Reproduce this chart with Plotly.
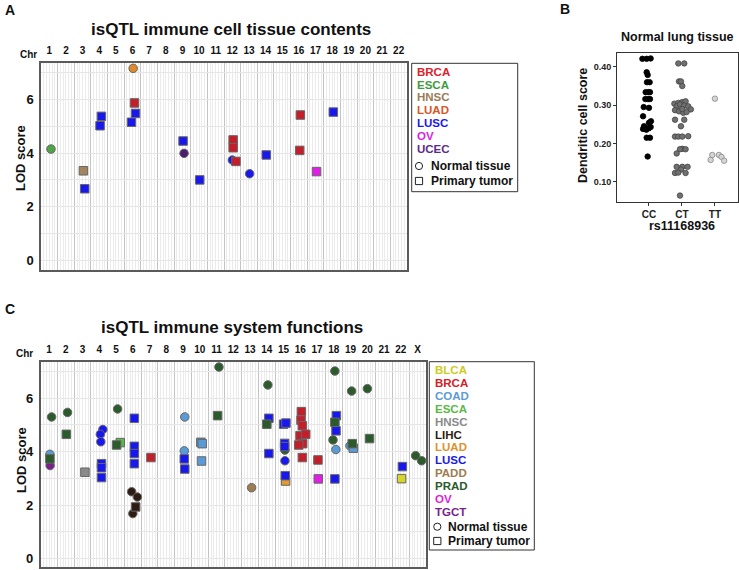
import plotly.graph_objects as go

W, H = 739, 570
FONT = "Liberation Sans"

# ---------------- Panel A data ----------------
a_chr_labels = [str(i) for i in range(1, 23)]
a_cancer = ["ESCA", "HNSC", "LUSC", "LUSC", "LUSC", "LUAD", "BRCA", "LUSC", "LUSC", "LUSC", "UCEC",
            "LUSC", "BRCA", "BRCA", "LUSC", "BRCA", "LUSC", "LUSC", "BRCA", "BRCA", "OV", "LUSC"]
a_tissue = ["N", "T", "T", "T", "T", "N", "T", "T", "T", "T", "N",
            "T", "T", "T", "N", "T", "N", "T", "T", "T", "T", "T"]
a_pos = [1.1, 3.05, 3.13, 4.05, 4.13, 6.04, 6.12, 6.18, 5.94, 9.04, 9.1,
         10.04, 12.05, 12.05, 12.0, 12.22, 13.04, 14.04, 16.09, 16.05, 17.06, 18.07]
a_lod = [4.15, 3.34, 2.67, 5.02, 5.37, 7.16, 5.87, 5.48, 5.15, 4.45, 3.99,
         3.0, 4.49, 4.2, 3.74, 3.69, 3.23, 3.93, 5.42, 4.1, 3.31, 5.53]
a_legend = ["BRCA", "ESCA", "HNSC", "LUAD", "LUSC", "OV", "UCEC"]

# ---------------- Panel B data ----------------
b_categories = ["CC", "CT", "TT"]
b_cc = [0.421, 0.421, 0.422, 0.386, 0.379, 0.360, 0.360, 0.334, 0.334, 0.334, 0.316, 0.316, 0.316,
        0.295, 0.293, 0.271, 0.258, 0.254, 0.245, 0.240, 0.240, 0.238, 0.236, 0.243, 0.215, 0.215, 0.166]
b_cc_jit = [-0.20, -0.07, 0.05, -0.07, -0.04, -0.06, 0.02, -0.10, -0.02, 0.03, -0.11, -0.03, 0.03,
            -0.16, 0.00, -0.18, 0.06, 0.00, -0.15, -0.10, 0.00, -0.18, -0.08, 0.05, -0.07, 0.03, -0.04]
b_ct = [0.409, 0.409, 0.362, 0.362, 0.350, 0.304, 0.306, 0.308, 0.310, 0.297, 0.302, 0.299, 0.297,
        0.289, 0.287, 0.284, 0.280, 0.282, 0.290, 0.262, 0.262, 0.245, 0.218, 0.218, 0.218, 0.219,
        0.186, 0.185, 0.185, 0.174, 0.139, 0.139, 0.139, 0.132, 0.123, 0.124, 0.123, 0.064]
b_ct_jit = [-0.11, 0.07, -0.09, -0.03, 0.01, -0.23, -0.11, 0.01, 0.11, -0.16, -0.06, 0.07, 0.19,
            0.27, -0.21, -0.09, 0.04, 0.14, 0.01, -0.21, 0.07, -0.03, -0.21, -0.11, 0.01, 0.19,
            0.01, 0.11, -0.06, -0.16, -0.16, 0.01, 0.17, -0.03, -0.21, -0.11, 0.11, -0.06]
b_tt = [0.317, 0.170, 0.170, 0.157, 0.165, 0.155]
b_tt_jit = [0.00, -0.08, 0.12, -0.13, 0.20, 0.28]

# ---------------- Panel C data ----------------
c_chr_labels = [str(i) for i in range(1, 23)] + ["X"]
c_cancer = ["PRAD", "PRAD", "PRAD", "COAD", "PRAD", "PRAD", "PRAD", "LUSC", "LUSC", "LUSC",
            "LUSC", "PRAD", "ESCA", "LUSC", "LUSC", "LUSC", "BRCA", "COAD", "LUSC", "LUSC",
            "COAD", "COAD", "COAD", "COAD", "PRAD", "TGCT", "HNSC", "LUSC", "LUSC", "LUSC",
            "LIHC", "LIHC", "LIHC", "LIHC", "PRAD", "PRAD", "PRAD", "PRAD", "LUSC", "PRAD",
            "LUSC", "LUSC", "BRCA", "BRCA", "BRCA", "BRCA", "BRCA", "BRCA", "BRCA", "BRCA",
            "BRCA", "PRAD", "LUSC", "LUSC", "PRAD", "COAD", "COAD", "PRAD", "COAD", "PRAD",
            "PRAD", "PRAD", "LUSC", "BLCA", "LUSC", "LUSC", "PRAD", "LUSC", "LUSC", "LUSC",
            "LUAD", "OV", "LUSC", "PADD"]
c_tissue = ["N", "N", "N", "N", "T", "N", "T", "T", "N", "N",
            "N", "T", "T", "T", "T", "T", "T", "N", "T", "T",
            "T", "T", "T", "N", "T", "N", "T", "T", "T", "T",
            "N", "N", "T", "N", "N", "N", "N", "N", "T", "T",
            "T", "T", "T", "T", "T", "T", "T", "T", "T", "T",
            "T", "T", "T", "T", "N", "N", "N", "T", "T", "T",
            "N", "N", "T", "T", "T", "T", "N", "N", "T", "T",
            "T", "T", "T", "N"]
c_pos = [1.15, 2.1, 5.09, 9.1, 11.06, 11.14, 2.03, 6.09, 4.21, 4.06,
         4.09, 5.03, 5.25, 6.09, 6.09, 6.09, 7.08, 9.07, 9.07, 9.1,
         10.06, 10.14, 10.1, 1.05, 1.05, 1.06, 3.14, 4.13, 4.13, 4.13,
         5.93, 6.27, 6.17, 6.0, 18.06, 14.06, 19.06, 20.0, 14.12, 14.0,
         15.0, 15.14, 16.06, 16.04, 16.12, 15.98, 16.32, 16.14, 15.9, 16.12,
         17.05, 18.06, 18.15, 18.13, 17.95, 18.12, 18.96, 19.1, 19.16, 20.13,
         22.88, 23.24, 22.09, 22.04, 15.06, 15.06, 15.08, 15.08, 14.12, 15.1,
         15.12, 17.07, 18.06, 13.09]
c_lod = [5.30, 5.47, 5.60, 5.30, 5.35, 7.17, 4.65, 5.25, 4.83, 4.65,
         4.37, 4.25, 4.34, 4.20, 3.93, 3.55, 3.78, 4.03, 3.73, 3.35,
         4.35, 4.30, 3.65, 3.90, 3.73, 3.48, 3.23, 3.55, 3.40, 3.03,
         2.50, 2.30, 1.93, 1.68, 7.02, 6.50, 6.27, 6.36, 5.25, 5.03,
         5.03, 5.07, 5.50, 5.18, 4.97, 4.60, 4.65, 4.30, 4.25, 3.78,
         3.69, 5.10, 5.35, 4.78, 4.44, 4.08, 4.22, 4.30, 4.13, 4.49,
         3.85, 3.66, 3.44, 2.99, 4.31, 4.19, 4.06, 3.66, 3.93, 3.10,
         2.90, 2.98, 2.98, 2.65]
c_legend = ["BLCA", "BRCA", "COAD", "ESCA", "HNSC", "LIHC", "LUAD", "LUSC", "PADD", "PRAD", "OV", "TGCT"]

tissue_labels = ["Normal tissue", "Primary tumor"]

# ---------------- styles ----------------
a_marker_col = {"BRCA": "#c41e2a", "ESCA": "#4fa447", "HNSC": "#a3845c", "LUAD": "#e0892b",
                "LUSC": "#1818ee", "OV": "#e01ee6", "UCEC": "#4b1d6e"}
a_text_col = {"BRCA": "#e0202a", "ESCA": "#3f9b40", "HNSC": "#9c7c56", "LUAD": "#d9562a",
              "LUSC": "#1a1ae8", "OV": "#e01ee0", "UCEC": "#5a2d8c"}
c_marker_col = {"BLCA": "#d6d62a", "BRCA": "#c41e2a", "COAD": "#5b9bd5", "ESCA": "#5cb848",
                "HNSC": "#8a8a8a", "LIHC": "#2e1c12", "LUAD": "#e49a2e", "LUSC": "#1818ee",
                "PADD": "#9c7c50", "PRAD": "#2b5a2b", "OV": "#e01ee6", "TGCT": "#7a1f8c"}
c_text_col = {"BLCA": "#cccc22", "BRCA": "#d42026", "COAD": "#5b9bd5", "ESCA": "#5cb848",
              "HNSC": "#8a8a8a", "LIHC": "#2e1c12", "LUAD": "#e0912e", "LUSC": "#1a1ae8",
              "PADD": "#9c7c50", "PRAD": "#2b5a2b", "OV": "#e01ee0", "TGCT": "#7a1f8c"}


def px(x):
    return x / W


def py(y):
    return 1 - y / H


fig = go.Figure()


def add_panel(cancers, tissues, pos, lod, order, colors, xa, ya):
    for t, sym in (("N", "circle"), ("T", "square")):
        for c in order:
            xs = [p for p, cc, tt in zip(pos, cancers, tissues) if cc == c and tt == t]
            ys = [l for l, cc, tt in zip(lod, cancers, tissues) if cc == c and tt == t]
            if not xs:
                continue
            fig.add_trace(go.Scatter(
                x=xs, y=ys, mode="markers", xaxis=xa, yaxis=ya, showlegend=False,
                marker=dict(symbol=sym, size=8.5, color=colors[c],
                            line=dict(width=1, color="#666666")),
                name=c))


add_panel(a_cancer, a_tissue, a_pos, a_lod, a_legend, a_marker_col, "x", "y")
add_panel(c_cancer, c_tissue, c_pos, c_lod, c_legend, c_marker_col, "x3", "y3")

# Panel B
for i, (vals, jit, fill, edge) in enumerate([(b_cc, b_cc_jit, "#000000", "#000000"),
                                             (b_ct, b_ct_jit, "#707070", "#444444"),
                                             (b_tt, b_tt_jit, "#d4d4d4", "#888888")]):
    fig.add_trace(go.Scatter(
        x=[i + 1 + j for j in jit], y=vals, mode="markers", xaxis="x2", yaxis="y2",
        showlegend=False, marker=dict(size=5.5, color=fill, line=dict(width=0.8, color=edge))))


def chr_axis(labels, left, right):
    n = len(labels)
    vals, text = [], []
    for k in range(1, n + 1):
        for j in (-2, -1, 0, 1, 2):
            vals.append(k + j / 6)
            text.append("<b>%s</b>" % labels[k - 1] if j == 0 else "")
    return dict(domain=[px(left), px(right)], range=[0.5, n + 0.5], side="top",
                tickmode="array", tickvals=vals, ticktext=text,
                ticks="outside", ticklen=3, tickcolor="rgba(0,0,0,0)",
                showgrid=True, gridcolor="#ebebeb", gridwidth=1, zeroline=False,
                showline=True, linecolor="#5a5a5a", linewidth=1.5, mirror=True,
                minor=dict(tickmode="array", tickvals=[k + 0.5 for k in range(0, n + 1)],
                           showgrid=True, gridcolor="#c4c4c4", gridwidth=1, ticks=""),
                tickfont=dict(family=FONT, size=10, color="#111111"),
                automargin=False, fixedrange=True)


def lod_axis(top, bottom, rng):
    return dict(domain=[py(bottom), py(top)], range=rng, tickmode="array",
                tickvals=list(range(0, 8)),
                ticktext=["<b>%d</b>" % v if v % 2 == 0 else "" for v in range(0, 8)],
                ticks="outside", ticklen=3, tickcolor="rgba(0,0,0,0)",
                showgrid=True, gridcolor="#e6e6e6", gridwidth=1, zeroline=False,
                showline=True, linecolor="#5a5a5a", linewidth=1.5, mirror=True,
                tickfont=dict(family=FONT, size=13, color="#111111"),
                automargin=False, fixedrange=True)


fig.update_layout(
    width=W, height=H, margin=dict(l=0, r=0, t=0, b=0, pad=0, autoexpand=False),
    paper_bgcolor="white", plot_bgcolor="white",
    xaxis=dict(chr_axis(a_chr_labels, 41, 407), anchor="y"),
    yaxis=dict(lod_axis(63, 270, [-0.36, 7.36]), anchor="x"),
    xaxis3=dict(chr_axis(c_chr_labels, 40.7, 426), anchor="y3"),
    yaxis3=dict(lod_axis(361.7, 567, [-0.32, 7.37]), anchor="x3"),
    xaxis2=dict(domain=[px(617), px(738)], range=[0.03, 3.7], anchor="y2",
                tickmode="array", tickvals=[1, 2, 3],
                ticktext=["<b>%s</b>" % c for c in b_categories],
                ticks="outside", ticklen=3, tickcolor="#333", showgrid=False, zeroline=False,
                showline=True, linecolor="#333", linewidth=1, mirror=True,
                tickfont=dict(family=FONT, size=10, color="#222"),
                automargin=False, fixedrange=True),
    yaxis2=dict(domain=[py(201.7), py(52.7)], range=[0.048, 0.437], anchor="x2",
                tickmode="array", tickvals=[0.1, 0.2, 0.3, 0.4],
                ticktext=["<b>0.10</b>", "<b>0.20</b>", "<b>0.30</b>", "<b>0.40</b>"],
                ticks="outside", ticklen=3, tickcolor="#333", showgrid=False, zeroline=False,
                showline=True, linecolor="#333", linewidth=1, mirror=True,
                tickfont=dict(family=FONT, size=9, color="#222"),
                automargin=False, fixedrange=True),
)

annotations = []
shapes = []


def ann(text, x, y, size, xanchor="center", color="#111111", angle=0):
    annotations.append(dict(text=text, x=px(x), y=py(y), xref="paper", yref="paper",
                            xanchor=xanchor, yanchor="middle", showarrow=False,
                            textangle=angle, font=dict(family=FONT, size=size, color=color)))


# Panel letters and titles
ann("<b>A</b>", 3, 10, 14, "left")
ann("<b>B</b>", 565, 9, 14, "center")
ann("<b>C</b>", 3, 309, 14, "left")
ann("<b>isQTL immune cell tissue contents</b>", 231, 29, 17)
ann("<b>isQTL immune system functions</b>", 231.5, 327, 17)
ann("<b>Normal lung tissue</b>", 677, 37, 12.5)
ann("<b>Chr</b>", 28, 55, 10)
ann("<b>Chr</b>", 24, 353, 10)
ann("<b>LOD score</b>", 21, 158, 13, angle=-90)
ann("<b>LOD score</b>", 21, 460, 13, angle=-90)
ann("<b>Dendritic cell score</b>", 583, 126, 12.5, angle=-90)
ann("<b>rs11168936</b>", 682, 226, 12.5)


def legend_box(x0, y0, x1, y1, names, cols, ytop, sym_x, text_x, y_norm, y_prim):
    shapes.append(dict(type="rect", xref="paper", yref="paper", x0=px(x0), x1=px(x1),
                       y0=py(y1), y1=py(y0), line=dict(color="#333333", width=1)))
    for i, n in enumerate(names):
        ann("<b>%s</b>" % n, x0 + 3.5, ytop + i * 12.9, 11.5, "left", cols[n])
    r = 3.6
    shapes.append(dict(type="circle", xref="paper", yref="paper", x0=px(sym_x - r), x1=px(sym_x + r),
                       y0=py(y_norm + r), y1=py(y_norm - r), line=dict(color="#222", width=1)))
    shapes.append(dict(type="rect", xref="paper", yref="paper", x0=px(sym_x - r), x1=px(sym_x + r),
                       y0=py(y_prim + r), y1=py(y_prim - r), line=dict(color="#222", width=1)))
    ann("<b>%s</b>" % tissue_labels[0], text_x, y_norm, 12, "left")
    ann("<b>%s</b>" % tissue_labels[1], text_x, y_prim, 12, "left")


legend_box(411.7, 63.3, 517.7, 191.7, a_legend, a_text_col, 71.7, 419, 428.5, 166, 181)
legend_box(429.3, 361.7, 534.3, 550, c_legend, c_text_col, 370, 437.3, 445.5, 526.7, 541)

fig.update_layout(annotations=annotations, shapes=shapes)
fig.write_html("out.html", config={"displayModeBar": False},
               post_script="document.body.style.margin='0px';document.body.style.overflow='hidden';")
